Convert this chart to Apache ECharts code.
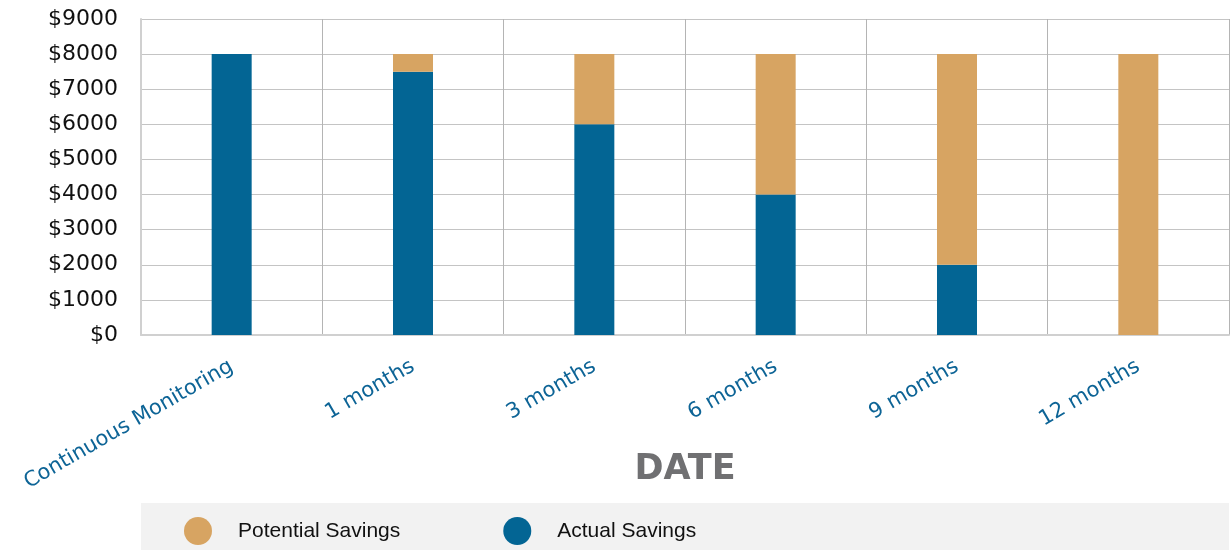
<!DOCTYPE html>
<html>
<head>
<meta charset="utf-8">
<script src="https://cdn.jsdelivr.net/npm/echarts@6/dist/echarts.min.js"></script>
<style>html,body{margin:0;padding:0;background:#fff;}#c{width:1232px;height:550px;}</style>
</head>
<body>
<div id="c"></div>
<script>
const categories = ['Continuous Monitoring', '1 months', '3 months', '6 months', '9 months', '12 months'];
const actualSavings = [8000, 7500, 6000, 4000, 2000, 0];
const potentialSavings = [0, 500, 2000, 4000, 6000, 8000];
const seriesNames = ['Potential Savings', 'Actual Savings'];
const axisTitle = 'DATE';

const chart = echarts.init(document.getElementById('c'), null, {renderer: 'canvas'});
chart.setOption({
  animation: false,
  backgroundColor: '#ffffff',
  grid: {left: 141, right: 3, top: 19, bottom: 215, containLabel: false},
  graphic: [{
    type: 'rect', z: -10, silent: true,
    shape: {x: 141, y: 503, width: 1088, height: 47},
    style: {fill: '#f2f2f2'}
  }],
  legend: {
    data: seriesNames,
    left: 179, top: 512,
    orient: 'horizontal',
    icon: 'circle',
    itemWidth: 70, itemHeight: 28,
    itemGap: 103,
    textStyle: {fontFamily: 'Liberation Sans', fontSize: 21, color: '#111'}
  },
  xAxis: {
    type: 'category',
    data: categories,
    boundaryGap: true,
    name: axisTitle,
    nameLocation: 'middle',
    nameGap: 117,
    nameMoveOverlap: false,
    nameTextStyle: {fontFamily: 'DejaVu Sans', fontWeight: 'bold', fontSize: 35, color: '#707072', verticalAlign: 'top'},
    axisLine: {show: true, lineStyle: {color: '#d0d0d0', width: 2}},
    axisTick: {show: false},
    splitLine: {show: true, lineStyle: {color: '#b4b4b4', width: 1}},
    axisLabel: {rotate: 30, margin: 30, interval: 0, fontFamily: 'DejaVu Sans', fontSize: 21, color: '#0d6496'}
  },
  yAxis: {
    type: 'value',
    min: 0, max: 9000, interval: 1000,
    axisLine: {show: true, lineStyle: {color: '#d0d0d0', width: 2}},
    axisTick: {show: false},
    splitLine: {show: true, lineStyle: {color: '#c4c4c4', width: 1}},
    axisLabel: {margin: 23, fontFamily: 'DejaVu Sans', fontSize: 22, color: '#111',
      formatter: v => '$' + v}
  },
  series: [
    {
      name: 'Actual Savings', type: 'bar', stack: 's', barWidth: 40,
      data: actualSavings, itemStyle: {color: '#036594'}
    },
    {
      name: 'Potential Savings', type: 'bar', stack: 's', barWidth: 40,
      data: potentialSavings, itemStyle: {color: '#d7a462'}
    }
  ]
});
</script>
</body>
</html>
